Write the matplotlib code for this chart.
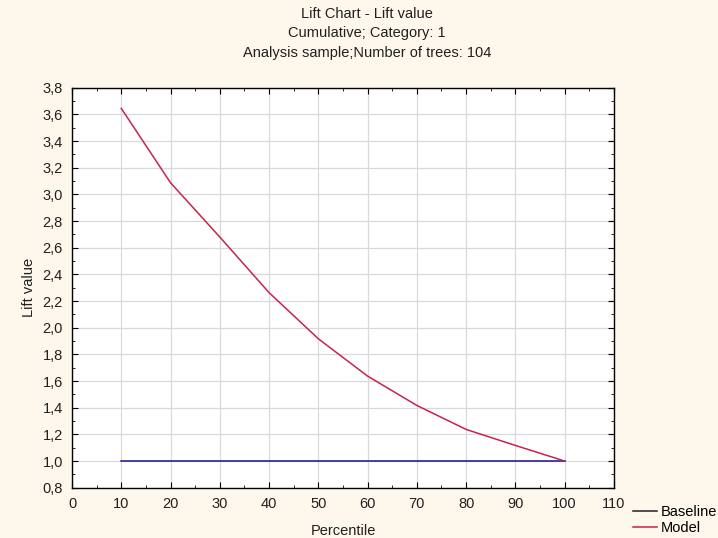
import matplotlib

matplotlib.use("Agg")
import matplotlib.pyplot as plt
from matplotlib.ticker import MultipleLocator, FuncFormatter

plt.rcParams["font.family"] = ["Liberation Sans", "DejaVu Sans"]

BG = "#fdf8eb"
MODEL_RED = "#c8234a"
BASE_BLUE = "#14148c"
GRID = "#d9d9d9"
INK = "#202020"

percentile = [10, 20, 30, 40, 50, 60, 70, 80, 90, 100]
model_lift = [3.645, 3.087, 2.68, 2.263, 1.917, 1.637, 1.417, 1.237, 1.117, 1.0]
baseline_lift = [1.0, 1.0, 1.0, 1.0, 1.0, 1.0, 1.0, 1.0, 1.0, 1.0]

fig = plt.figure(figsize=(7.18, 5.38), dpi=100, facecolor=BG)
ax = fig.add_axes([0.1003, 0.0935, 0.7547, 0.7435])
ax.set_facecolor("white")

ax.plot(percentile, baseline_lift, color=BASE_BLUE, linewidth=1.1, label="Baseline")
ax.plot(percentile, model_lift, color=MODEL_RED, linewidth=1.1, label="Model")

ax.set_xlim(0, 110)
ax.set_ylim(0.8, 3.8)
ax.xaxis.set_major_locator(MultipleLocator(10))
ax.xaxis.set_minor_locator(MultipleLocator(5))
ax.yaxis.set_major_locator(MultipleLocator(0.2))
ax.yaxis.set_minor_locator(MultipleLocator(0.1))
ax.yaxis.set_major_formatter(FuncFormatter(lambda v, _: f"{v:.1f}".replace(".", ",")))

ax.grid(True, which="major", color=GRID, linewidth=0.9)
ax.set_axisbelow(True)
for spine in ax.spines.values():
    spine.set_color("black")
    spine.set_linewidth(1.0)
ax.tick_params(which="both", direction="in", top=True, right=True, colors="black",
               labelsize=10.5, labelcolor=INK)
ax.tick_params(which="major", length=4)
ax.tick_params(axis="y", which="major", pad=6.5)
ax.tick_params(axis="x", which="major", pad=7)
ax.tick_params(which="minor", length=2)

ax.set_xlabel("Percentile", fontsize=10.5, color=INK, labelpad=9)
ax.set_ylabel("Lift value", fontsize=10.5, color=INK, labelpad=5)

fig.text(0.511, 0.974, "Lift Chart - Lift value", ha="center", va="center", fontsize=10.5, color=INK)
fig.text(0.511, 0.938, "Cumulative; Category: 1", ha="center", va="center", fontsize=10.5, color=INK)
fig.text(0.511, 0.901, "Analysis sample;Number of trees: 104", ha="center", va="center",
         fontsize=10.5, color=INK)

handles, labels = ax.get_legend_handles_labels()
leg = fig.legend(handles, labels, loc="lower left", bbox_to_anchor=(0.868, -0.014),
                 frameon=False, fontsize=10.5, handlelength=1.6, handletextpad=0.3,
                 labelspacing=0.15, borderpad=0.2)
leg.legend_handles[0].set_color(INK)
leg.legend_handles[1].set_color(MODEL_RED)

fig.savefig("out.png", dpi=100, facecolor=BG)
